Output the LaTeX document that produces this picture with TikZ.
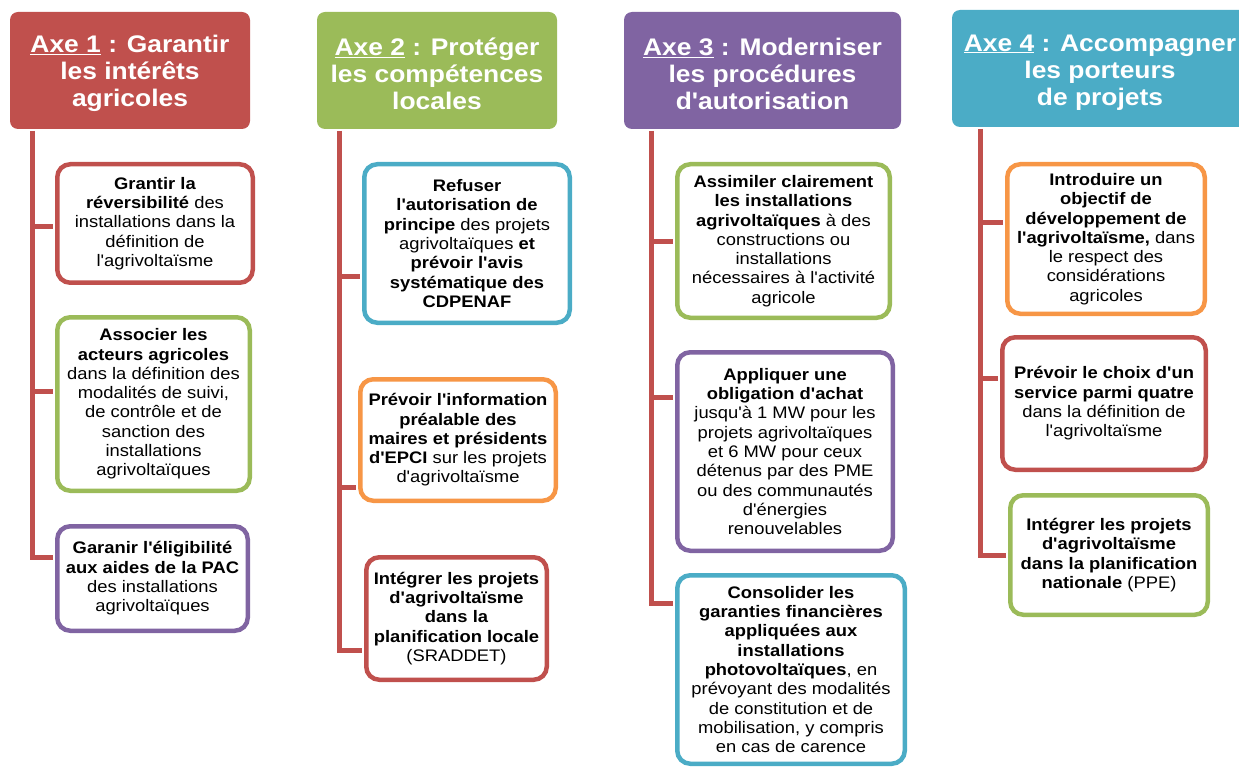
\documentclass[tikz,border=0pt]{standalone}
\usepackage{fontspec}
\setmainfont{Liberation Sans}[FakeStretch=1.1, Ligatures=TeXOff]
\definecolor{axred}{HTML}{C0504D}
\definecolor{axgreen}{HTML}{9BBB59}
\definecolor{axpurple}{HTML}{8064A2}
\definecolor{axblue}{HTML}{4BACC6}
\definecolor{axorange}{HTML}{F79646}
\newcommand{\bodyfnt}{\fontsize{16.7}{19.3}\selectfont}
\newcommand{\headfnt}{\fontsize{24}{27}\selectfont\bfseries}
\tikzset{
  item/.style={draw=#1, line width=4.5pt, rounded corners=13pt, fill=white,
    align=center, inner sep=0pt, font=\bodyfnt, text=black},
  head/.style={fill=#1, rounded corners=8pt, text=white, align=center,
    inner sep=0pt, font=\headfnt},
  conn/.style={draw=axred, line width=5pt, line join=miter, shorten >=2pt},
}
\begin{document}
\begin{tikzpicture}[x=1pt, y=-1pt]
\useasboundingbox (0,0) rectangle (1239,767);
\clip (0,0) rectangle (1239,767);

% headers
\node[head=axred, minimum width=240pt, minimum height=117pt] (h1) at (130,70.5)
  {\rule{0pt}{24pt}\underline{Axe 1} : Garantir\\les intérêts\\agricoles};
\node[head=axgreen, minimum width=240pt, minimum height=117pt] (h2) at (437,70.5)
  {\rule{0pt}{24pt}\underline{Axe 2} : Protéger\\les compétences\\locales};
\node[head=axpurple, minimum width=277pt, minimum height=117pt] (h3) at (762.5,70.5)
  {\rule{0pt}{24pt}\underline{Axe 3} : Moderniser\\les procédures\\d'autorisation};
\node[head=axblue, minimum width=296pt, minimum height=117pt] (h4) at (1100,68.5)
  {\rule{0pt}{24pt}\underline{Axe 4} : Accompagner\\les porteurs\\de projets};

% axe 1 boxes
\node[item=axred, minimum width=195.5pt, minimum height=118.5pt] (b11) at (155,223.5)
  {\textbf{Grantir la}\\\textbf{réversibilité} des\\installations dans la\\définition de\\l'agrivoltaïsme};
\node[item=axgreen, minimum width=192.5pt, minimum height=173.5pt] (b12) at (153.5,404)
  {\textbf{Associer les}\\\textbf{acteurs agricoles}\\dans la définition des\\modalités de suivi,\\de contrôle et de\\sanction des\\installations\\agrivoltaïques};
\node[item=axpurple, minimum width=190.5pt, minimum height=104.5pt] (b13) at (152.5,578.5)
  {\textbf{Garanir l'éligibilité}\\\textbf{aux aides de la PAC}\\des installations\\agrivoltaïques};

% axe 2 boxes
\node[item=axblue, minimum width=205.5pt, minimum height=158.5pt] (b21) at (467,243.5)
  {\textbf{Refuser}\\\textbf{l'autorisation de}\\\textbf{principe} des projets\\agrivoltaïques \textbf{et}\\\textbf{prévoir l'avis}\\\textbf{systématique des}\\\textbf{CDPENAF}};
\node[item=axorange, minimum width=195.5pt, minimum height=121.5pt] (b22) at (458,440)
  {\textbf{Prévoir l'information}\\\textbf{préalable des}\\\textbf{maires et présidents}\\\textbf{d'EPCI} sur les projets\\d'agrivoltaïsme};
\node[item=axred, minimum width=180.5pt, minimum height=122.5pt] (b23) at (456.5,618.5)
  {\textbf{Intégrer les projets}\\\textbf{d'agrivoltaïsme}\\\textbf{dans la}\\\textbf{planification locale}\\(SRADDET)};

% axe 3 boxes
\node[item=axgreen, minimum width=212.5pt, minimum height=153.5pt] (b31) at (783.5,241)
  {\textbf{Assimiler clairement}\\\textbf{les installations}\\\textbf{agrivoltaïques} à des\\constructions ou\\installations\\nécessaires à l'activité\\agricole};
\node[item=axpurple, minimum width=215.5pt, minimum height=198.5pt] (b32) at (785,451.5)
  {\textbf{Appliquer une}\\\textbf{obligation d'achat}\\jusqu'à 1 MW pour les\\projets agrivoltaïques\\et 6 MW pour ceux\\détenus par des PME\\ou des communautés\\d'énergies\\renouvelables};
\node[item=axblue, minimum width=227.5pt, minimum height=188.5pt] (b33) at (791,669.5)
  {\textbf{Consolider les}\\\textbf{garanties financières}\\\textbf{appliquées aux}\\\textbf{installations}\\\textbf{photovoltaïques}, en\\prévoyant des modalités\\de constitution et de\\mobilisation, y compris\\en cas de carence};

% axe 4 boxes
\node[item=axorange, minimum width=197.5pt, minimum height=149.5pt] (b41) at (1106,239)
  {\textbf{Introduire un}\\\textbf{objectif de}\\\textbf{développement de}\\\textbf{l'agrivoltaïsme,} dans\\le respect des\\considérations\\agricoles};
\node[item=axred, minimum width=203.5pt, minimum height=132.5pt] (b42) at (1104,403.5)
  {\textbf{Prévoir le choix d'un}\\\textbf{service parmi quatre}\\dans la définition de\\l'agrivoltaïsme};
\node[item=axgreen, minimum width=197.5pt, minimum height=119.5pt] (b43) at (1109,555)
  {\textbf{Intégrer les projets}\\\textbf{d'agrivoltaïsme}\\\textbf{dans la planification}\\\textbf{nationale} (PPE)};

% junction coordinates
\coordinate (t1) at (32,131);  \coordinate (j11) at (32,227);  \coordinate (j12) at (32,391);  \coordinate (j13) at (32,557);
\coordinate (t2) at (339,131); \coordinate (j21) at (339,277); \coordinate (j22) at (339,487); \coordinate (j23) at (339,650);
\coordinate (t3) at (651,131); \coordinate (j31) at (651,242); \coordinate (j32) at (651,397); \coordinate (j33) at (651,603);
\coordinate (t4) at (980,129); \coordinate (j41) at (980,223); \coordinate (j42) at (980,378); \coordinate (j43) at (980,555);

% connectors
\draw[conn] (t1) -- (j13) -- (j13 -| b13.west);
\draw[conn] (j11) -- (j11 -| b11.west);
\draw[conn] (j12) -- (j12 -| b12.west);

\draw[conn] (t2) -- (j23) -- (j23 -| b23.west);
\draw[conn] (j21) -- (j21 -| b21.west);
\draw[conn] (j22) -- (j22 -| b22.west);

\draw[conn] (t3) -- (j33) -- (j33 -| b33.west);
\draw[conn] (j31) -- (j31 -| b31.west);
\draw[conn] (j32) -- (j32 -| b32.west);

\draw[conn] (t4) -- (j43) -- (j43 -| b43.west);
\draw[conn] (j41) -- (j41 -| b41.west);
\draw[conn] (j42) -- (j42 -| b42.west);
\end{tikzpicture}
\end{document}
